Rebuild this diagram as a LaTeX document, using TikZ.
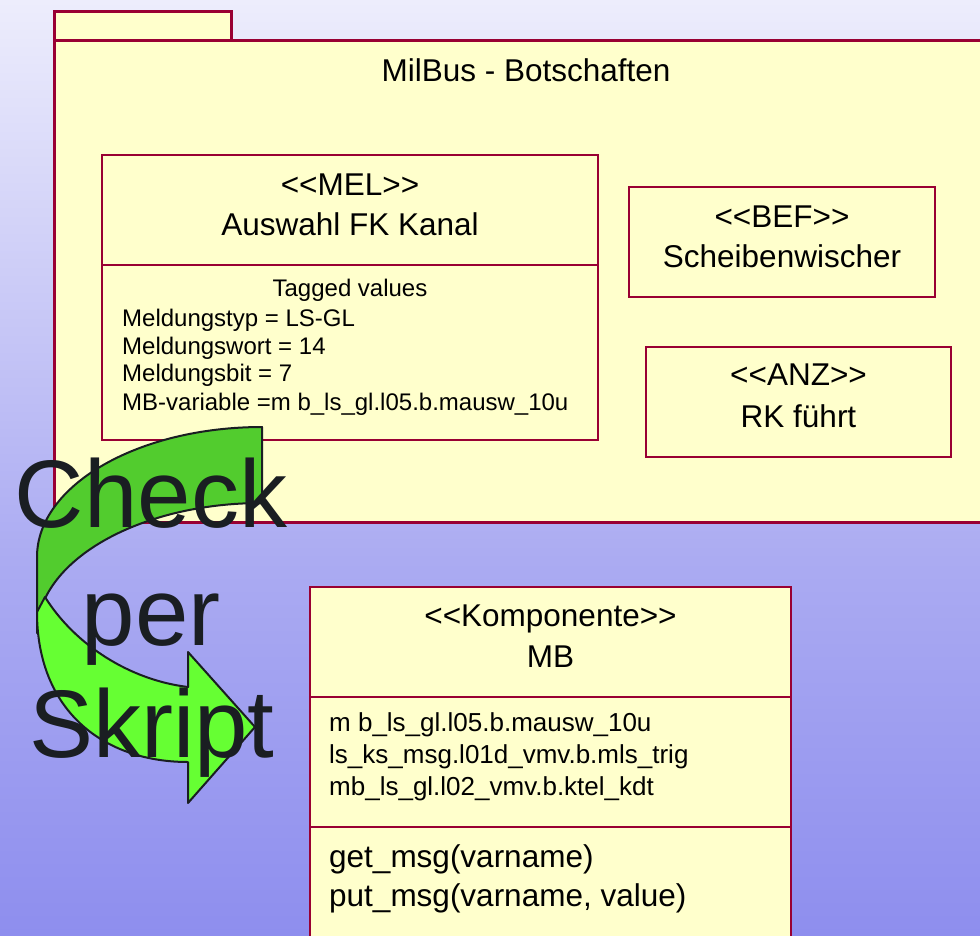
\documentclass[tikz,border=0pt]{standalone}
\usepackage{fontspec}
\setmainfont{Liberation Sans}
\definecolor{bgtop}{HTML}{EDEDFC}
\definecolor{bgmid}{HTML}{ABABF2}
\definecolor{bgbot}{HTML}{8E8EEE}
\definecolor{pkgfill}{HTML}{FFFFCC}
\definecolor{pkgline}{HTML}{990033}
\definecolor{darkgreen}{HTML}{52CC2E}
\definecolor{lightgreen}{HTML}{66FF33}
\definecolor{inkblack}{HTML}{1A1E22}
\tikzset{
  umlbox/.style={draw=pkgline, fill=pkgfill, line width=2.4pt},
  pkgbox/.style={draw=pkgline, fill=pkgfill, line width=3pt},
  sep/.style={draw=pkgline, line width=2.4pt},
  head/.style={inner sep=0pt, anchor=base, font=\fontsize{31.5}{36}\selectfont},
  tagtxt/.style={inner sep=0pt, anchor=base west, font=\fontsize{24}{28}\selectfont},
  attrtxt/.style={inner sep=0pt, anchor=base west, font=\fontsize{26}{30}\selectfont},
  methtxt/.style={inner sep=0pt, anchor=base west, font=\fontsize{31.5}{36}\selectfont},
  bigtxt/.style={inner sep=0pt, anchor=base, text=inkblack, font=\fontsize{96}{110}\selectfont},
  arrowband/.style={draw=inkblack, line width=2pt, line join=round}
}
\begin{document}
\begin{tikzpicture}[x=1pt,y=-1pt]
\useasboundingbox (0,0) rectangle (980,935);
% background
\shade[top color=bgtop, bottom color=bgmid] (0,0) rectangle (980,560);
\shade[top color=bgmid, bottom color=bgbot] (0,559.5) rectangle (980,935);

% package
\draw[pkgbox] (54,11) rectangle (231,40);
\draw[pkgbox] (54,40) rectangle (995,522);
\node[head] (title) at (526,81) {MilBus - Botschaften};

% MEL box
\draw[umlbox] (102,155) rectangle (598,440);
\draw[sep] (102,265) -- (598,265);
\node[head] (melst) at (350,195) {<{}<MEL>{}>};
\node[head] (melname) at (350,235) {Auswahl FK Kanal};
\node[head, font=\fontsize{24}{28}\selectfont] (tagged) at (350,296) {Tagged values};
\node[tagtxt] (t1) at (122,326) {Meldungstyp = LS-GL};
\node[tagtxt] (t2) at (122,354) {Meldungswort = 14};
\node[tagtxt] (t3) at (122,381) {Meldungsbit = 7};
\node[tagtxt] (t4) at (122,410) {MB-variable =m b\_ls\_gl.l05.b.mausw\_10u};

% BEF box
\draw[umlbox] (629,187) rectangle (935,297);
\node[head] (befst) at (782,227) {<{}<BEF>{}>};
\node[head] (befname) at (782,267) {Scheibenwischer};

% ANZ box
\draw[umlbox] (646,347) rectangle (951,457);
\node[head] (anzst) at (798.5,385) {<{}<ANZ>{}>};
\node[head] (anzname) at (798.5,427) {RK führt};

% MB box
\draw[umlbox] (310,587) rectangle (791,950);
\draw[sep] (310,697) -- (791,697);
\draw[sep] (310,827) -- (791,827);
\node[head] (mbst) at (550.5,626) {<{}<Komponente>{}>};
\node[head] (mbname) at (550.5,667) {MB};
\node[attrtxt] (a1) at (329,731) {m b\_ls\_gl.l05.b.mausw\_10u};
\node[attrtxt] (a2) at (329,763) {ls\_ks\_msg.l01d\_vmv.b.mls\_trig};
\node[attrtxt] (a3) at (329,795) {mb\_ls\_gl.l02\_vmv.b.ktel\_kdt};
\node[methtxt] (m1) at (329,867) {get\_msg(varname)};
\node[methtxt] (m2) at (329,906) {put\_msg(varname, value)};

% curved arrow: back band
\filldraw[arrowband, fill=darkgreen]
  (262,427) .. controls (138.3,427) and (37,485.2) .. (37,557)
  -- (37,633) .. controls (37,561.2) and (138.3,503) .. (262,503) -- cycle;
% front band with head
\filldraw[arrowband, fill=lightgreen]
  (37,612) .. controls (37,712) and (105,762) .. (188,762)
  -- (188,803) -- (255,727) -- (188,652) -- (188,687)
  .. controls (130,680) and (75,645) .. (45,597) -- cycle;

% overlay text
\node[bigtxt] (check) at (151,527) {Check};
\node[bigtxt] (per) at (151,645) {per};
\node[bigtxt] (skript) at (152,757) {Skript};
\end{tikzpicture}
\end{document}
